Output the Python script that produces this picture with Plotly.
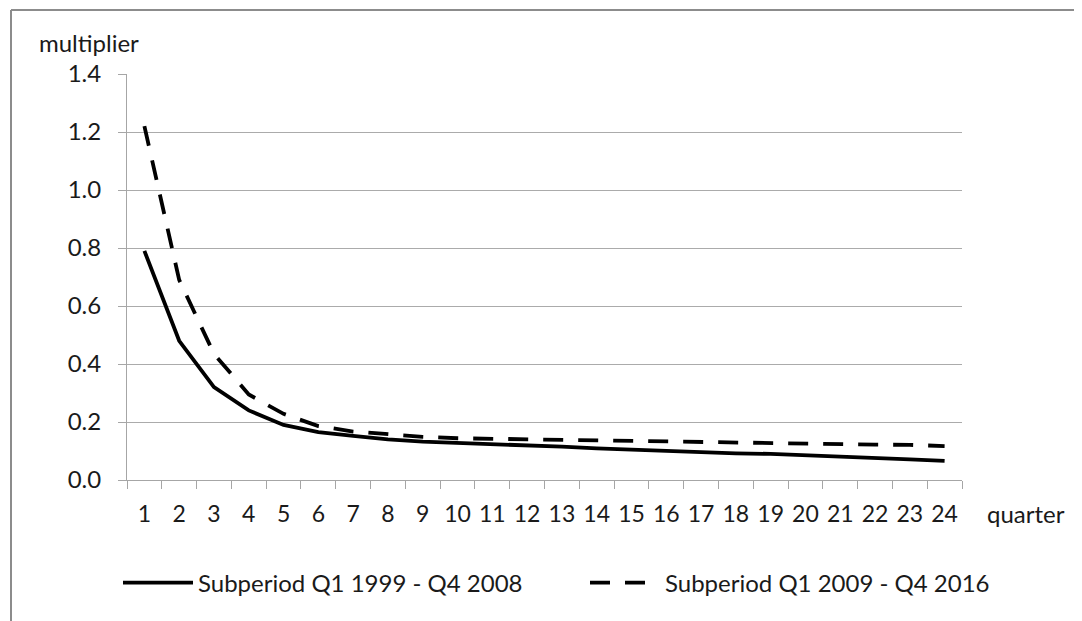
import plotly.graph_objects as go

quarters = [str(i) for i in range(1, 25)]
sub_1999_2008 = [0.79, 0.48, 0.32, 0.24, 0.19, 0.165, 0.152, 0.140, 0.132, 0.128,
                 0.126, 0.120, 0.115, 0.109, 0.104, 0.099, 0.094, 0.092, 0.090, 0.086,
                 0.080, 0.075, 0.071, 0.066]
sub_2009_2016 = [1.22, 0.69, 0.435, 0.295, 0.228, 0.186, 0.167, 0.158, 0.149, 0.144,
                 0.142, 0.140, 0.138, 0.136, 0.133, 0.131, 0.130, 0.129, 0.128, 0.125,
                 0.123, 0.122, 0.121, 0.117]
y_ticks = [0.0, 0.2, 0.4, 0.6, 0.8, 1.0, 1.2, 1.4]
y_tick_text = [f"{v:.1f}" for v in y_ticks]

FONT = "Lato"
FS = 24
TXT = "#1a1a1a"
OFF = 8  # page body margin
W, H = 1082, 621
# target page pixels of plot area
PL, PR, PT, PB = 127, 962, 74, 480
L, T = PL - OFF, PT - OFF
R, B = W - (PR - OFF), H - (PB - OFF)
pw, ph = W - L - R, H - T - B

def px(x):
    return (x - OFF - L) / pw

def py(y):
    return (H - B - (y - OFF)) / ph

fig = go.Figure()
fig.add_trace(go.Scatter(x=quarters, y=sub_1999_2008, mode="lines",
                         name="Subperiod Q1 1999 - Q4 2008", legend="legend",
                         line=dict(color="black", width=3.8)))
fig.add_trace(go.Scatter(x=quarters, y=sub_2009_2016, mode="lines",
                         name="Subperiod Q1 2009 - Q4 2016", legend="legend2",
                         line=dict(color="black", width=3.8, dash="20px,15px")))

leg_common = dict(orientation="h", xanchor="left", yanchor="middle",
                  itemwidth=70, font=dict(family=FONT, size=FS, color=TXT),
                  bgcolor="rgba(0,0,0,0)", borderwidth=0)

fig.update_layout(
    width=W, height=H,
    margin=dict(l=L, r=R, t=T, b=B, pad=0),
    paper_bgcolor="white", plot_bgcolor="white",
    font=dict(family=FONT, size=FS, color=TXT),
    showlegend=True,
    legend=dict(x=px(118), y=py(583), **leg_common),
    legend2=dict(x=px(585), y=py(583), **leg_common),
    xaxis=dict(type="category", showgrid=False, showline=True, linecolor="#a6a6a6",
               linewidth=1, ticks="outside", tickson="boundaries", ticklen=8,
               tickcolor="#a6a6a6", tickfont=dict(family=FONT, size=FS - 1, color=TXT),
               tickangle=0, ticklabelstandoff=13, range=[-0.5, 23.5], zeroline=False),
    yaxis=dict(range=[0, 1.4], tickvals=y_ticks, ticktext=y_tick_text,
               showgrid=True, gridcolor="#ababab", gridwidth=1,
               showline=True, linecolor="#a6a6a6", linewidth=1,
               ticks="outside", ticklen=8, tickcolor="#a6a6a6",
               tickfont=dict(family=FONT, size=FS, color=TXT),
               ticklabelstandoff=12, zeroline=False),
    annotations=[
        dict(text="multiplier", xref="paper", yref="paper", x=px(37), y=py(43),
             xanchor="left", yanchor="middle", showarrow=False,
             font=dict(family=FONT, size=FS, color=TXT)),
        dict(text="quarter", xref="paper", yref="paper", x=px(985), y=py(513),
             xanchor="left", yanchor="middle", showarrow=False,
             font=dict(family=FONT, size=FS, color=TXT)),
    ],
    shapes=[
        dict(type="line", xref="paper", yref="paper", x0=px(11), x1=px(W + OFF), y0=py(10), y1=py(10),
             line=dict(color="#8c8c8c", width=2)),
        dict(type="line", xref="paper", yref="paper", x0=px(11), x1=px(11), y0=py(10), y1=py(H + OFF),
             line=dict(color="#8c8c8c", width=2)),
    ],
)

fig.write_html("out.html")
